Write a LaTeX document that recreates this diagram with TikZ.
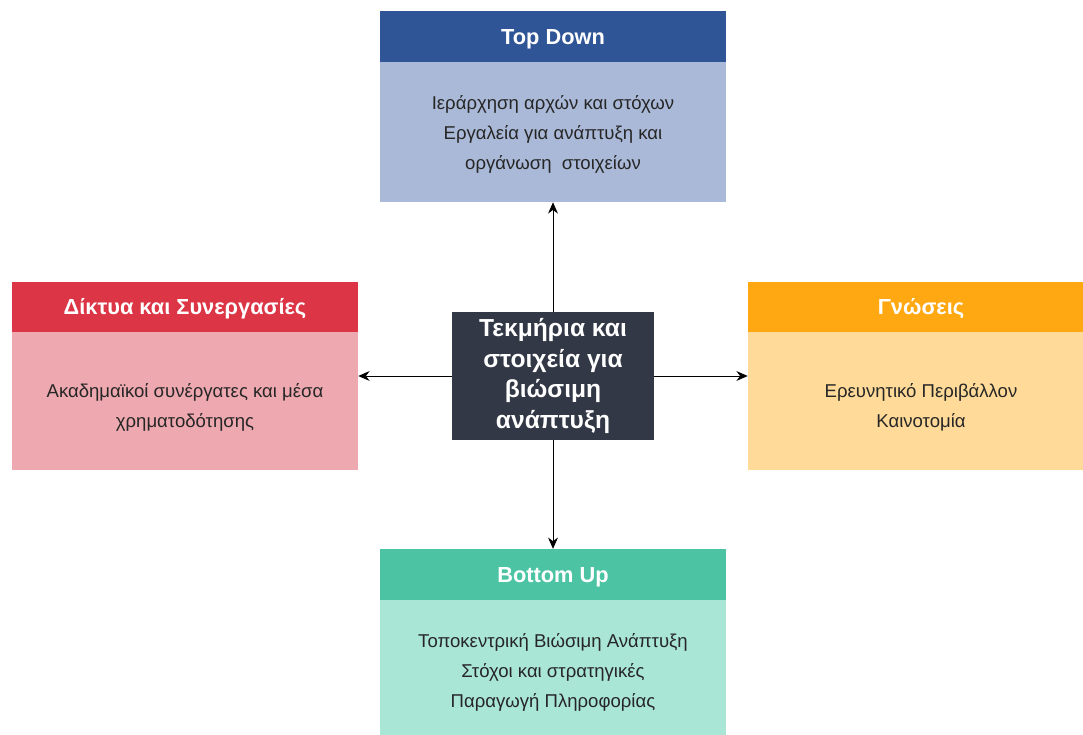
\documentclass[tikz,border=0pt]{standalone}
\usepackage{fontspec}
\setmainfont{Liberation Sans}
\usetikzlibrary{positioning,arrows.meta}

\definecolor{tdhead}{HTML}{2F5597}
\definecolor{tdbody}{HTML}{AAB9D7}
\definecolor{nethead}{HTML}{DC3545}
\definecolor{netbody}{HTML}{EEA9B0}
\definecolor{knhead}{HTML}{FFA811}
\definecolor{knbody}{HTML}{FFDA98}
\definecolor{buhead}{HTML}{4CC4A4}
\definecolor{bubody}{HTML}{A9E6D6}
\definecolor{coreblue}{HTML}{333846}

\tikzset{
    head/.style={minimum width=8.65cm, minimum height=1.27cm, inner sep=0pt,
        text height=11.1pt, text depth=0pt,
        text=white, font=\fontsize{15.5}{16}\selectfont\bfseries},
    body/.style={minimum width=8.65cm, minimum height=3.5cm, inner sep=0pt},
    bodytext/.style={align=center, inner sep=0pt, text=black!85,
        font=\fontsize{13.2}{21.3}\selectfont},
    core/.style={fill=coreblue, minimum width=5.05cm, minimum height=3.2cm, inner sep=0pt,
        align=center, text=white, font=\fontsize{17.5}{22}\selectfont\bfseries},
    link/.style={-{Stealth[length=8pt,width=7pt]}, semithick}
}

\begin{document}
\begin{tikzpicture}[x=0.025cm, y=-0.025cm]
    \useasboundingbox (0, 0) rectangle (1083, 735);
    \clip (0, 0) rectangle (1083, 735);

    % --------
    % Centre
    % --------
    \node[core] at (553, 376) (center) {Τεκμήρια και\\στοιχεία για\\βιώσιμη\\ανάπτυξη};

    % --------
    % Top Down
    % --------
    \node[head, fill=tdhead] at (553, 36.5) (tophead) {Top Down};
    \node[body, fill=tdbody] at (553, 132) (topbody) {};
    \node[bodytext] at ([yshift=-0.05cm]topbody.center) (toptext) {Ιεράρχηση αρχών και στόχων\\Εργαλεία για ανάπτυξη και\\οργάνωση \ στοιχείων};

    % --------
    % Networks
    % --------
    \node[head, fill=nethead] at (185, 307) (lefthead) {Δίκτυα και Συνεργασίες};
    \node[body, fill=netbody, minimum height=3.45cm] at (185, 401) (leftbody) {};
    \node[bodytext] at ([yshift=-0.15cm]leftbody.center) (lefttext) {Ακαδημαϊκοί συνέργατες και μέσα\\χρηματοδότησης};

    % --------
    % Knowledge
    % --------
    \node[head, fill=knhead] at (921, 307) (righthead) {Γνώσεις};
    \node[body, fill=knbody, minimum height=3.45cm] at (921, 401) (rightbody) {};
    \node[bodytext] at ([yshift=-0.15cm]rightbody.center) (righttext) {Ερευνητικό Περιβάλλον\\Καινοτομία};

    % --------
    % Bottom Up
    % --------
    \node[head, fill=buhead] at (553, 574.5) (bottomhead) {Bottom Up};
    \node[body, fill=bubody] at (553, 670) (bottombody) {};
    \node[bodytext] at ([yshift=-0.07cm]bottombody.center) (bottomtext) {Τοποκεντρική Βιώσιμη Ανάπτυξη\\Στόχοι και στρατηγικές\\Παραγωγή Πληροφορίας};

    % Draw line
    \draw[link] (center) -- (topbody);
    \draw[link] (center) -- (bottomhead);
    \draw[link] (center.west) -- (center.west -| leftbody.east);
    \draw[link] (center.east) -- (center.east -| rightbody.west);
\end{tikzpicture}
\end{document}
